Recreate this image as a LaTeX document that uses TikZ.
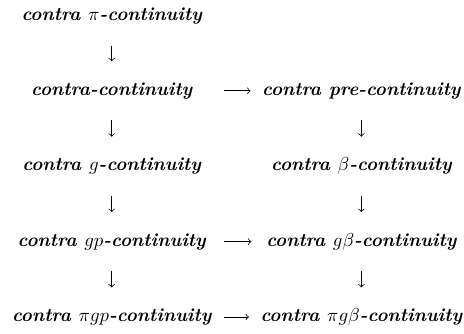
\documentclass[tikz,border=0pt]{standalone}
\usetikzlibrary{positioning}

\begin{document}
\begin{tikzpicture}[
  every node/.style={font=\bfseries\itshape, inner sep=0pt, text height=7pt, text depth=2pt},
  lcol/.style={minimum width=3.74cm},
  rcol/.style={minimum width=3.68cm},
  down/.style={draw, ->, shorten <=11pt, shorten >=11pt},
  across/.style={draw, ->, shorten <=6.5pt, shorten >=6pt}
]
\useasboundingbox (0,0) rectangle (8.68,6.23);

% Left column
\node[lcol] (pi)   at (2.09, 5.93) {contra $\pi$-continuity};
\node[lcol] (cc)   at (2.09, 4.53) {contra-continuity};
\node[lcol] (g)    at (2.09, 3.12) {contra $g$-continuity};
\node[lcol] (gp)   at (2.09, 1.71) {contra $gp$-continuity};
\node[lcol] (pigp) at (2.09, 0.30) {contra $\pi gp$-continuity};

% Right column
\node[rcol] (pre)   at (6.76, 4.53) {contra pre-continuity};
\node[rcol] (beta)  at (6.76, 3.12) {contra $\beta$-continuity};
\node[rcol] (gb)    at (6.76, 1.71) {contra $g\beta$-continuity};
\node[rcol] (pigb)  at (6.76, 0.30) {contra $\pi g\beta$-continuity};

% Vertical arrows
\draw[down] (pi) -- (cc);
\draw[down] (cc) -- (g);
\draw[down] (g) -- (gp);
\draw[down] (gp) -- (pigp);
\draw[down] (pre) -- (beta);
\draw[down] (beta) -- (gb);
\draw[down] (gb) -- (pigb);

% Horizontal arrows
\draw[across] (cc) -- (pre);
\draw[across] (gp) -- (gb);
\draw[across] (pigp) -- (pigb);

\end{tikzpicture}
\end{document}
